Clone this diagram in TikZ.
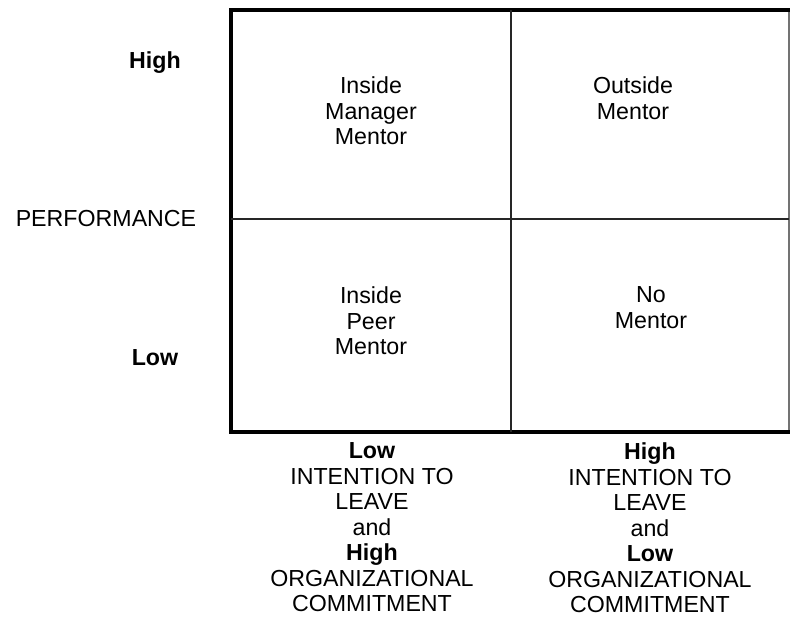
\documentclass[tikz,border=0pt]{standalone}
\usepackage{fontspec}
\setmainfont{Liberation Sans}
\begin{document}
\begin{tikzpicture}[x=1pt,y=-1pt,
  lbl/.style={inner sep=0pt,align=center,anchor=north,
    font=\fontsize{23.2}{25.5}\selectfont},
  frame/.style={line width=4.5pt,line cap=rect},
  divider/.style={line width=1.6pt,draw=black!85},
  rim/.style={line width=1.5pt,draw=black!55}]
\useasboundingbox (0,0) rectangle (790,621);

% corners of the matrix and the ends of its dividers
\coordinate (nw) at (231,10);
\coordinate (ne) at (789,10);
\coordinate (sw) at (231,432);
\coordinate (se) at (789,432);
\coordinate (ntop) at (511,10);
\coordinate (nbot) at (511,432);
\coordinate (wmid) at (231,219);
\coordinate (emid) at (789,219);

% outer frame: heavy on three sides, light on the right
\draw[rim] (ne) -- (se);
\draw[frame] (ne) -- (nw) -- (sw) -- (se);
% dividers between the four cells
\draw[divider] (ntop) -- (nbot);
\draw[divider] (wmid) -- (emid);

% vertical axis
\node[lbl] (yhigh) at (155,51.5) {\textbf{High}};
\node[lbl] (yname) at (106,210.5) {PERFORMANCE};
\node[lbl] (ylow) at (155,349.5) {\textbf{Low}};

% cells
\node[lbl] (tl) at (371,76.5) {Inside\\Manager\\Mentor};
\node[lbl] (tr) at (633,76.5) {Outside\\Mentor};
\node[lbl] (bl) at (371,286.5) {Inside\\Peer\\Mentor};
\node[lbl] (br) at (651,286.5) {No\\Mentor};

% horizontal axis
\node[lbl] (xleft) at (372,442.5)
  {\textbf{Low}\\INTENTION TO\\LEAVE\\and\\\textbf{High}\\ORGANIZATIONAL\\COMMITMENT};
\node[lbl] (xright) at (650,442.5)
  {\textbf{High}\\INTENTION TO\\LEAVE\\and\\\textbf{Low}\\ORGANIZATIONAL\\COMMITMENT};
\end{tikzpicture}
\end{document}
